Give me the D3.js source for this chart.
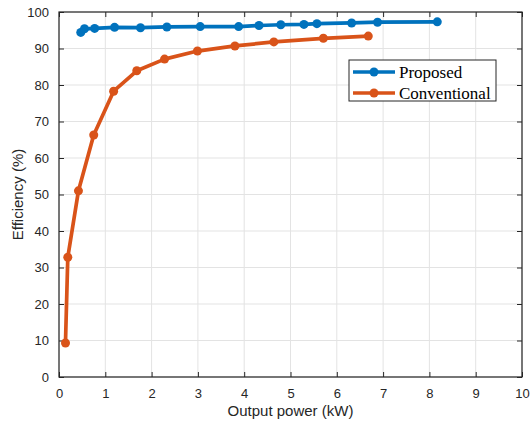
<!DOCTYPE html>
<html>
<head>
<meta charset="utf-8">
<script src="https://cdn.jsdelivr.net/npm/d3@7"></script>
<style>
  body { margin: 0; background: #fff; }
  svg { display: block; }
</style>
</head>
<body>
<div id="chart"></div>
<script>
// Data
var proposedX = [0.47, 0.55, 0.77, 1.2, 1.76, 2.33, 3.05, 3.88, 4.32, 4.79, 5.29, 5.57, 6.32, 6.88, 8.17];
var proposedY = [94.4, 95.4, 95.5, 95.8, 95.7, 95.9, 96.0, 96.0, 96.3, 96.5, 96.6, 96.8, 97.0, 97.2, 97.3];
var conventionalX = [0.14, 0.19, 0.42, 0.75, 1.18, 1.68, 2.28, 2.99, 3.8, 4.64, 5.71, 6.68];
var conventionalY = [9.3, 32.8, 51.0, 66.3, 78.3, 83.9, 87.1, 89.3, 90.7, 91.8, 92.8, 93.4];
var xTicks = [0, 1, 2, 3, 4, 5, 6, 7, 8, 9, 10];
var yTicks = [0, 10, 20, 30, 40, 50, 60, 70, 80, 90, 100];

var series = [
  { name: "Proposed", color: "#0072BD", x: proposedX, y: proposedY },
  { name: "Conventional", color: "#D95319", x: conventionalX, y: conventionalY }
];

var W = 530, H = 424;
var margin = {top: 12, right: 8, bottom: 47, left: 59},
    width = W - margin.left - margin.right,
    height = H - margin.top - margin.bottom;

var svg = d3.select("#chart").append("svg")
    .attr("width", W)
    .attr("height", H);

var g = svg.append("g")
    .attr("transform", "translate(" + margin.left + "," + margin.top + ")");

var x = d3.scaleLinear().domain([0, 10]).range([0, width]);
var y = d3.scaleLinear().domain([0, 100]).range([height, 0]);

// grid
g.append("g").selectAll("line").data(xTicks).enter().append("line")
    .attr("x1", function(d) { return x(d); }).attr("x2", function(d) { return x(d); })
    .attr("y1", 0).attr("y2", height)
    .attr("stroke", "#e3e3e3").attr("stroke-width", 1);
g.append("g").selectAll("line").data(yTicks).enter().append("line")
    .attr("y1", function(d) { return y(d); }).attr("y2", function(d) { return y(d); })
    .attr("x1", 0).attr("x2", width)
    .attr("stroke", "#e3e3e3").attr("stroke-width", 1);

// axes with inward ticks (MATLAB style)
function styleAxis(sel) {
  sel.select(".domain").remove();
  sel.selectAll(".tick line").attr("stroke", "#262626");
  sel.selectAll("text").attr("fill", "#262626")
      .style("font-family", "Liberation Sans, Arial, sans-serif").style("font-size", "13px");
}
g.append("g").attr("transform", "translate(0," + height + ")")
    .call(d3.axisBottom(x).tickValues(xTicks).tickSizeInner(-5).tickPadding(12))
    .call(styleAxis);
g.append("g")
    .call(d3.axisLeft(y).tickValues(yTicks).tickSizeInner(-5).tickPadding(10))
    .call(styleAxis);
g.append("g")
    .call(d3.axisTop(x).tickValues(xTicks).tickSizeInner(-5).tickFormat(""))
    .call(styleAxis);
g.append("g").attr("transform", "translate(" + width + ",0)")
    .call(d3.axisRight(y).tickValues(yTicks).tickSizeInner(-5).tickFormat(""))
    .call(styleAxis);

g.append("rect")
    .attr("width", width).attr("height", height)
    .attr("fill", "none").attr("stroke", "#262626").attr("stroke-width", 1.2);

// lines
var line = d3.line()
    .x(function(d) { return x(d[0]); })
    .y(function(d) { return y(d[1]); });

series.forEach(function(s) {
  var pts = s.x.map(function(v, i) { return [v, s.y[i]]; });
  g.append("path").datum(pts)
      .attr("d", line)
      .attr("fill", "none")
      .attr("stroke", s.color)
      .attr("stroke-width", 3.7)
      .attr("stroke-linejoin", "round");
  g.append("g").selectAll("circle").data(pts).enter().append("circle")
      .attr("cx", function(d) { return x(d[0]); })
      .attr("cy", function(d) { return y(d[1]); })
      .attr("r", 4.5)
      .attr("fill", s.color);
});

// axis labels
svg.append("text")
    .attr("x", margin.left + width / 2).attr("y", 416)
    .attr("text-anchor", "middle")
    .attr("fill", "#262626")
    .style("font-family", "Liberation Sans, Arial, sans-serif").style("font-size", "15px")
    .text("Output power (kW)");
svg.append("text")
    .attr("transform", "translate(23," + (margin.top + height / 2) + ") rotate(-90)")
    .attr("text-anchor", "middle")
    .attr("fill", "#262626")
    .style("font-family", "Liberation Sans, Arial, sans-serif").style("font-size", "15px")
    .text("Efficiency (%)");

// legend
var legend = svg.append("g").attr("transform", "translate(349,60)");
legend.append("rect")
    .attr("width", 147).attr("height", 41)
    .attr("fill", "#fff").attr("stroke", "#262626").attr("stroke-width", 1);
series.forEach(function(s, i) {
  var ly = 12 + i * 21;
  legend.append("line")
      .attr("x1", 4).attr("x2", 46).attr("y1", ly).attr("y2", ly)
      .attr("stroke", s.color).attr("stroke-width", 3.7);
  legend.append("circle").attr("cx", 25).attr("cy", ly).attr("r", 4.5).attr("fill", s.color);
  legend.append("text")
      .attr("x", 50).attr("y", ly + 5.5)
      .attr("fill", "#000")
      .style("font-family", "Liberation Serif, Times New Roman, serif").style("font-size", "17px")
      .text(s.name);
});
</script>
</body>
</html>
